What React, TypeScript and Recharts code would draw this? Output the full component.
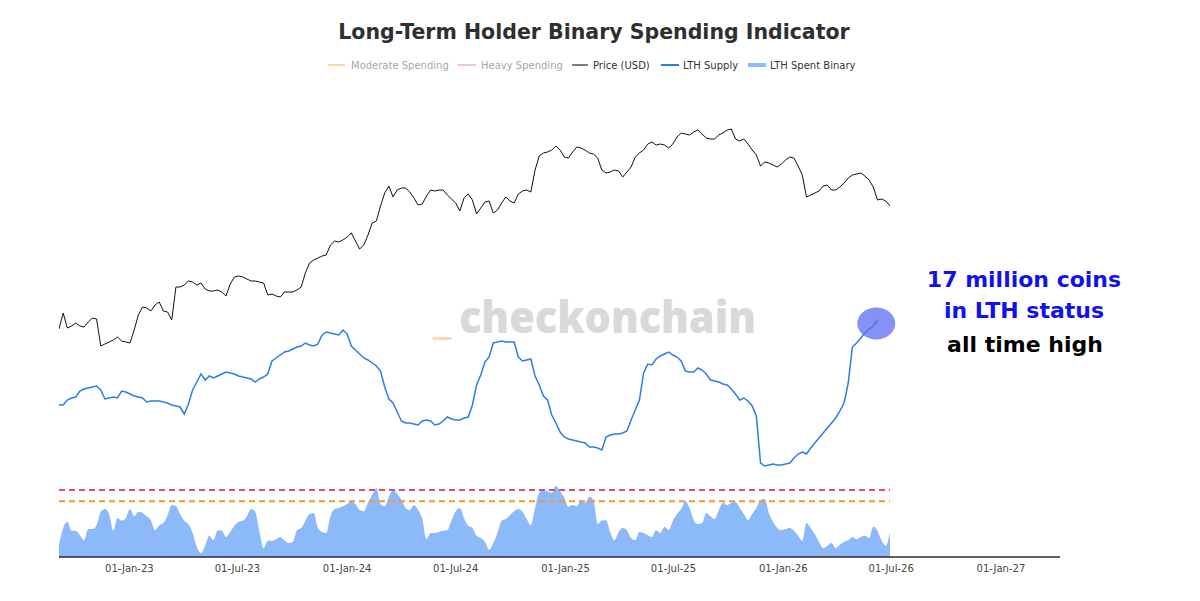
import React from 'react';
import { ComposedChart, Line, Area, XAxis, YAxis, ReferenceDot } from 'recharts';

const DAY = 86400000;
const START = Date.UTC(2022, 8, 5);
const END = START + 1678 * DAY;
const STEP_DAYS = 7;

// Price (USD, thousands), weekly
const priceK = [
  57, 61, 57.25, 57.75, 58.5, 57.75, 57.5, 58.75, 59.75, 59.5,
  52.75, 53.25, 53.75, 54.25, 55, 54, 53.75, 53.5, 56.75, 60.5,
  62.5, 62.25, 61.5, 63, 63.75, 61.5, 61.25, 59.25, 67.5, 67.5,
  68, 69, 68.75, 68, 68.5, 67, 66.5, 66.5, 66.75, 66.25,
  65.25, 68.25, 70, 70.25, 70, 69.5, 69, 69, 68.75, 68.5,
  65.5, 65.75, 65.25, 65, 66.25, 66.25, 66.25, 66.75, 67.5, 71,
  73.5, 74.25, 74.75, 75.25, 75.5, 78, 79, 78.75, 79.25, 80,
  81, 79, 77, 78, 80.5, 83.5, 84, 87.75, 91, 92.75,
  90, 91.75, 92.25, 92.25, 91.25, 89.75, 88, 88.25, 90.25, 91.75,
  91.5, 91.75, 91.75, 90.5, 89.5, 88.5, 86.5, 89.75, 90.75, 89.25,
  85.75, 87.25, 88.75, 89, 86, 86.75, 88.5, 90, 89, 88.5,
  90.75, 91.5, 91.75, 91.25, 96.75, 100.25, 101, 101.25, 101.75, 102.75,
  101.75, 100, 99.75, 101.25, 102.5, 102.25, 101.75, 101, 100.75, 99.75,
  96.75, 96, 96.25, 96.75, 96.5, 95, 96.25, 97.5, 100, 101,
  101.75, 103.25, 103.75, 103, 103.25, 103, 102.25, 103.25, 105, 106,
  105.75, 105.5, 106.25, 106.75, 105.75, 104.75, 104.5, 104.5, 105.5, 106,
  106.75, 107, 104.5, 104, 104.5, 103.25, 101.75, 100.5, 97.75, 98.75,
  98.5, 98, 97.5, 98.25, 99.25, 100, 99.75, 97.75, 95.5, 90,
  90.5, 91, 91.5, 92.75, 93, 91.75, 91.75, 92.5, 93.5, 94.75,
  95.5, 95.75, 96, 95.25, 94.25, 92.5, 89.25, 89.5, 89, 87.75,
];

// LTH Supply (million BTC), weekly
const lthSupplyM = [
  15.30, 15.30, 15.40, 15.44, 15.46, 15.58, 15.62, 15.64, 15.66, 15.68,
  15.60, 15.42, 15.44, 15.46, 15.44, 15.58, 15.56, 15.52, 15.48, 15.46,
  15.44, 15.36, 15.38, 15.38, 15.38, 15.36, 15.34, 15.30, 15.28, 15.26,
  15.12, 15.32, 15.60, 15.76, 15.92, 15.80, 15.88, 15.84, 15.88, 15.92,
  15.96, 15.94, 15.92, 15.88, 15.86, 15.84, 15.82, 15.76, 15.82, 15.86,
  15.92, 16.18, 16.24, 16.30, 16.36, 16.38, 16.42, 16.46, 16.48, 16.54,
  16.50, 16.48, 16.52, 16.70, 16.76, 16.74, 16.72, 16.70, 16.80, 16.72,
  16.48, 16.40, 16.32, 16.24, 16.20, 16.14, 16.08, 15.98, 15.66, 15.42,
  15.34, 15.16, 14.98, 14.94, 14.94, 14.92, 14.90, 14.98, 15.00, 14.98,
  14.90, 14.92, 14.98, 15.06, 15.02, 15.00, 15.00, 15.04, 15.06, 15.30,
  15.70, 15.90, 16.16, 16.26, 16.54, 16.56, 16.58, 16.56, 16.56, 16.56,
  16.26, 16.18, 16.20, 16.22, 15.88, 15.70, 15.48, 15.40, 15.10, 14.94,
  14.76, 14.66, 14.62, 14.60, 14.58, 14.56, 14.54, 14.46, 14.46, 14.44,
  14.40, 14.66, 14.70, 14.72, 14.72, 14.74, 14.78, 15.00, 15.20, 15.40,
  15.94, 16.12, 16.10, 16.22, 16.28, 16.32, 16.36, 16.30, 16.26, 16.18,
  15.98, 15.96, 15.96, 16.04, 16.00, 15.92, 15.80, 15.78, 15.76, 15.72,
  15.70, 15.62, 15.52, 15.40, 15.44, 15.38, 15.28, 15.08, 14.14, 14.08,
  14.10, 14.12, 14.10, 14.10, 14.12, 14.14, 14.24, 14.32, 14.36, 14.32,
  14.44, 14.54, 14.64, 14.74, 14.84, 14.94, 15.04, 15.18, 15.34, 15.74,
  16.46, 16.54, 16.64, 16.74, 16.82, 16.88, 17.00,
];

// LTH Spent Binary (14-day count), weekly
const lthSpentBinary = [
  2.2, 5.2, 6.3, 4.7, 4.7, 3.9, 3.0, 5.0, 5.0, 5.7,
  8.1, 8.6, 7.7, 4.7, 7.0, 6.5, 7.0, 8.6, 7.3, 8.1,
  7.9, 7.3, 6.6, 4.8, 5.7, 6.1, 7.5, 9.3, 9.1, 7.7,
  6.5, 5.9, 4.3, 1.8, 0.7, 2.0, 3.8, 3.0, 4.8, 4.7,
  3.6, 4.5, 5.6, 6.3, 6.5, 7.3, 8.6, 8.1, 4.5, 1.6,
  2.9, 2.9, 3.2, 3.6, 3.0, 2.5, 2.7, 4.8, 5.2, 6.5,
  7.7, 7.9, 5.2, 4.5, 4.3, 7.3, 8.6, 8.8, 9.1, 9.5,
  9.9, 9.5, 8.4, 8.2, 9.7, 11.1, 12.3, 9.5, 9.1, 10.8,
  12.0, 11.3, 10.2, 8.8, 8.4, 9.3, 8.4, 6.8, 3.2, 4.3,
  4.3, 4.5, 4.7, 4.8, 6.6, 8.2, 8.8, 7.0, 5.6, 5.2,
  3.8, 3.4, 2.7, 1.3, 2.5, 4.3, 6.5, 6.8, 7.5, 8.2,
  8.6, 8.1, 6.8, 5.7, 8.8, 11.5, 12.0, 11.8, 11.5, 12.7,
  11.8, 10.6, 9.0, 9.3, 9.1, 10.2, 9.7, 10.8, 10.2, 5.9,
  6.6, 6.6, 4.5, 3.0, 4.5, 5.2, 4.8, 3.4, 3.0, 4.5,
  4.3, 3.9, 3.6, 4.8, 4.3, 5.4, 4.8, 6.5, 7.7, 8.6,
  10.0, 8.8, 6.6, 5.9, 6.1, 7.9, 7.3, 6.8, 8.4, 9.7,
  9.3, 9.7, 9.9, 8.8, 7.7, 6.6, 7.7, 8.8, 10.2, 10.4,
  7.9, 6.3, 5.2, 4.8, 5.0, 5.2, 4.7, 3.8, 2.9, 6.1,
  5.2, 4.1, 2.7, 1.6, 2.0, 2.5, 1.6, 2.2, 2.7, 3.0,
  3.6, 3.2, 3.6, 3.8, 3.4, 5.4, 4.7, 2.9, 2.0, 4.5,
];

const MODERATE_SPENDING = 10;
const HEAVY_SPENDING = 12;

const tickDates = [
  Date.UTC(2023, 0, 1), Date.UTC(2023, 6, 1), Date.UTC(2024, 0, 1), Date.UTC(2024, 6, 1),
  Date.UTC(2025, 0, 1), Date.UTC(2025, 6, 1), Date.UTC(2026, 0, 1), Date.UTC(2026, 6, 1),
  Date.UTC(2027, 0, 1),
];
const MONTHS = ['Jan', 'Feb', 'Mar', 'Apr', 'May', 'Jun', 'Jul', 'Aug', 'Sep', 'Oct', 'Nov', 'Dec'];

const data = lthSpentBinary.map((b, i) => ({
  t: START + i * STEP_DAYS * DAY,
  price: i < priceK.length ? priceK[i] : null,
  supply: i < lthSupplyM.length ? lthSupplyM[i] : null,
  bin: b,
  moderate: MODERATE_SPENDING,
  heavy: HEAVY_SPENDING,
}));

const lastSupplyIdx = lthSupplyM.length - 1;
const HIGHLIGHT_T = data[lastSupplyIdx].t - 2 * DAY;
const HIGHLIGHT_V = lthSupplyM[lastSupplyIdx] - 0.07;

const fmtTick = (v: number) => {
  const d = new Date(v);
  const dd = String(d.getUTCDate()).padStart(2, '0');
  const yy = String(d.getUTCFullYear() % 100).padStart(2, '0');
  return `${dd}-${MONTHS[d.getUTCMonth()]}-${yy}`;
};

const FONT = '"DejaVu Sans", Verdana, sans-serif';

export default function App() {
  return (
    <div style={{ position: 'absolute', left: 0, top: 0, width: 1200, height: 601, background: '#fff', overflow: 'hidden' }}>
      <svg width={1200} height={601} style={{ position: 'absolute', left: 0, top: 0 }}>
        <text x={433} y={333} fontFamily='"Open Sans", sans-serif' fontWeight={700} fontSize={45} fill="#fdd7b0">_</text>
        <text x={459} y={333} fontFamily='"Open Sans", sans-serif' fontWeight={800} fontSize={45} fill="#d9d9d9" textLength={297} lengthAdjust="spacingAndGlyphs">checkonchain</text>
      </svg>
      <div style={{ position: 'absolute', left: 0, top: 0 }}>
        <ComposedChart width={1200} height={601} data={data} margin={{ top: 77, right: 140, bottom: 14, left: 59 }}>
          <XAxis
            dataKey="t"
            type="number"
            domain={[START, END]}
            ticks={tickDates}
            tickFormatter={fmtTick}
            tickLine={false}
            axisLine={{ stroke: '#2b2b2b', strokeWidth: 1.5 }}
            tick={{ fill: '#444', fontSize: 10, fontFamily: FONT }}
            height={30}
            allowDataOverflow
          />
          <YAxis yAxisId="price" hide domain={[0, 120]} />
          <YAxis yAxisId="supply" hide domain={[12.26, 21.86]} />
          <YAxis yAxisId="bin" hide domain={[0, 86]} />
          <Area yAxisId="bin" dataKey="bin" type="monotone" stroke="none" fill="#8cb9fa" fillOpacity={1} isAnimationActive={false} dot={false} activeDot={false} />
          <Line yAxisId="bin" dataKey="heavy" stroke="#e0497c" strokeWidth={2} strokeDasharray="6 4" dot={false} activeDot={false} isAnimationActive={false} />
          <Line yAxisId="bin" dataKey="moderate" stroke="#f29a2e" strokeWidth={2} strokeDasharray="6 4" dot={false} activeDot={false} isAnimationActive={false} />
          <Line yAxisId="price" dataKey="price" stroke="#111" strokeWidth={1} dot={false} activeDot={false} isAnimationActive={false} />
          <Line yAxisId="supply" dataKey="supply" stroke="#2b7de9" strokeWidth={1.5} dot={false} activeDot={false} isAnimationActive={false} connectNulls={false} />
          <ReferenceDot
            yAxisId="supply"
            x={HIGHLIGHT_T}
            y={HIGHLIGHT_V}
            r={18}
            shape={(p: any) => (
              <ellipse cx={p.cx} cy={p.cy} rx={19} ry={16} fill="#5c6cf0" fillOpacity={0.75} stroke="none" />
            )}
          />
        </ComposedChart>
      </div>
      <svg width={1200} height={601} style={{ position: 'absolute', left: 0, top: 0, pointerEvents: 'none' }}>
        <text x={594} y={39} textAnchor="middle" fontFamily={FONT} fontWeight={700} fontSize={20.5} fill="#2f2f2f">
          Long-Term Holder Binary Spending Indicator
        </text>
        <g fontFamily={FONT} fontSize={10}>
          <line x1={328} y1={65} x2={345} y2={65} stroke="#fcd6ad" strokeWidth={2} />
          <text x={351} y={68.5} fill="#a6a6a6">Moderate Spending</text>
          <line x1={457.5} y1={65} x2={476} y2={65} stroke="#f7c3d4" strokeWidth={2} />
          <text x={481} y={68.5} fill="#a6a6a6">Heavy Spending</text>
          <line x1={572} y1={65} x2={588} y2={65} stroke="#222" strokeWidth={1.2} />
          <text x={593} y={68.5} fill="#333">Price (USD)</text>
          <line x1={661} y1={65} x2={679} y2={65} stroke="#2b7de9" strokeWidth={2} />
          <text x={683} y={68.5} fill="#333">LTH Supply</text>
          <rect x={748} y={63} width={18} height={4} fill="#8cb9fa" />
          <text x={770} y={68.5} fill="#333">LTH Spent Binary</text>
        </g>
        <g fontFamily={FONT} fontWeight={700} fontSize={22} textAnchor="middle">
          <text x={1024} y={287} fill="#1111ee">17 million coins</text>
          <text x={1024} y={318} fill="#1111ee">in LTH status</text>
          <text x={1025} y={352} fill="#000">all time high</text>
        </g>
      </svg>
    </div>
  );
}
